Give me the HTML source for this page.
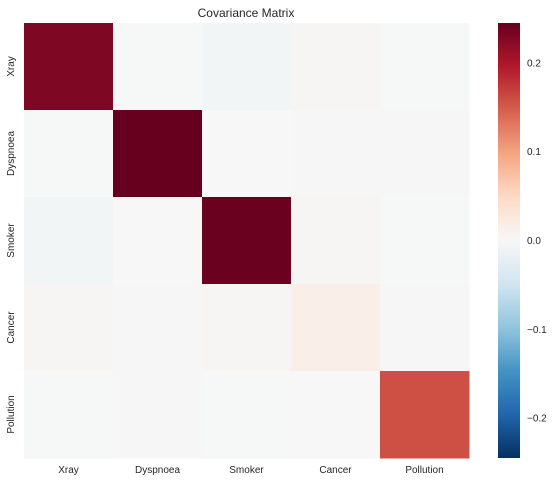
<!DOCTYPE html>
<html><head><meta charset="utf-8"><style>
html,body{margin:0;padding:0;background:#fff;}
svg{display:block;font-family:"Liberation Sans","DejaVu Sans",sans-serif;}
</style></head><body>
<svg id="chart" width="558" height="482">
<defs><linearGradient id="cbgrad" x1="0" y1="1" x2="0" y2="0"></linearGradient></defs>
<text x="246" y="17" font-size="12" fill="#262626" text-anchor="middle">Covariance Matrix</text>
<g id="cells"></g><g id="labels"></g><g id="cbar"></g>
</svg>
<script>
const categories = ["Xray","Dyspnoea","Smoker","Cancer","Pollution"];
const row0 = [0.23, -0.001, -0.006, 0.003, -0.001];
const row1 = [-0.001, 0.245, 0.0, 0.001, 0.001];
const row2 = [-0.006, 0.0, 0.243, 0.003, -0.001];
const row3 = [0.003, 0.001, 0.003, 0.015, 0.001];
const row4 = [-0.001, 0.001, -0.001, 0.0, 0.158];
const cbTicks = [0.2, 0.1, 0.0, -0.1, -0.2];
const cbTickLabels = ["0.2","0.1","0.0","\u22120.1","\u22120.2"];
const vmin = -0.245, vmax = 0.245;

const rows = [row0,row1,row2,row3,row4];
const stops = ["#053061","#2166ac","#4393c3","#92c5de","#d1e5f0","#f7f7f7","#fddbc7","#f4a582","#d6604d","#b2182b","#67001f"];
function hex(h){return [1,3,5].map(i=>parseInt(h.substr(i,2),16));}
function color(v){
  let t=(v-vmin)/(vmax-vmin); t=Math.max(0,Math.min(1,t));
  const p=t*(stops.length-1), i=Math.min(Math.floor(p),stops.length-2), f=p-i;
  const a=hex(stops[i]), b=hex(stops[i+1]);
  return "rgb("+a.map((c,k)=>Math.round(c+(b[k]-c)*f)).join(",")+")";
}
const NS="http://www.w3.org/2000/svg";
const X0=24, Y0=23, W=445, H=435;
const cw=W/categories.length, ch=H/categories.length;
const xPos=i=>X0+i*cw, yPos=i=>Y0+i*ch;
const cells=document.getElementById("cells"), labels=document.getElementById("labels"), cbar=document.getElementById("cbar");
rows.forEach((r,ri)=>r.forEach((v,ci)=>{
  const el=document.createElementNS(NS,"rect");
  el.setAttribute("x",xPos(ci));el.setAttribute("y",yPos(ri));
  el.setAttribute("width",cw+0.5);el.setAttribute("height",ch+0.5);
  el.setAttribute("fill",color(v));
  
  
  cells.appendChild(el);
}));
categories.forEach((c,i)=>{
  const t=document.createElementNS(NS,"text");
  t.setAttribute("x",xPos(i)+cw/2);t.setAttribute("y",473);
  t.setAttribute("font-size","10");t.setAttribute("fill","#262626");t.setAttribute("text-anchor","middle");
  t.textContent=c;
  
  
  labels.appendChild(t);
  const y=document.createElementNS(NS,"text");
  const cy=yPos(i)+ch/2;
  y.setAttribute("x",14);y.setAttribute("y",cy);
  y.setAttribute("transform","rotate(-90 14 "+cy+")");
  y.setAttribute("font-size","10");y.setAttribute("fill","#262626");y.setAttribute("text-anchor","middle");
  y.textContent=c;
  
  
  labels.appendChild(y);
});
const grad=document.getElementById("cbgrad");
stops.forEach((s,i)=>{const st=document.createElementNS(NS,"stop");st.setAttribute("offset",i/(stops.length-1));st.setAttribute("stop-color",s);grad.appendChild(st);});
const CB_X=498, CB_W=22, CB_Y=23, CB_H=435;
const cbY=v=>CB_Y+(vmax-v)/(vmax-vmin)*CB_H;
const cb=document.createElementNS(NS,"rect");
cb.setAttribute("x",CB_X);cb.setAttribute("y",CB_Y);cb.setAttribute("width",CB_W);cb.setAttribute("height",CB_H);cb.setAttribute("fill","url(#cbgrad)");


cbar.appendChild(cb);
cbTicks.forEach((v,i)=>{
  const t=document.createElementNS(NS,"text");
  t.setAttribute("x",527);t.setAttribute("y",cbY(v)+3.5);
  t.setAttribute("font-size","10");t.setAttribute("fill","#262626");
  t.textContent=cbTickLabels[i];
  
  
  cbar.appendChild(t);
});
</script>
</body></html>
